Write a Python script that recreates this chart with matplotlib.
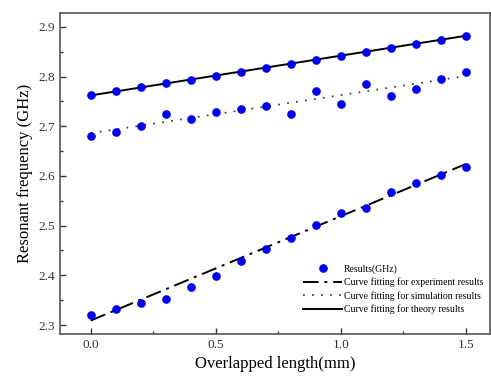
import matplotlib
matplotlib.use("Agg")
import matplotlib.pyplot as plt
import numpy as np

plt.rcParams['font.family'] = ['Liberation Serif', 'DejaVu Serif']

# Data
overlap_mm = [0.0, 0.1, 0.2, 0.3, 0.4, 0.5, 0.6, 0.7, 0.8, 0.9, 1.0, 1.1, 1.2, 1.3, 1.4, 1.5]
theory = [2.762, 2.770, 2.778, 2.786, 2.793, 2.801, 2.809, 2.817, 2.825, 2.833, 2.841, 2.849, 2.857, 2.865, 2.873, 2.882]
simulation = [2.680, 2.689, 2.700, 2.725, 2.715, 2.729, 2.734, 2.740, 2.725, 2.770, 2.745, 2.785, 2.760, 2.775, 2.795, 2.810]
experiment = [2.321, 2.333, 2.345, 2.352, 2.376, 2.399, 2.429, 2.452, 2.476, 2.502, 2.525, 2.536, 2.568, 2.585, 2.602, 2.618]

fit_x = [0.0, 1.5]
fit_experiment = [2.309, 2.624]
fit_simulation = [2.686, 2.801]
fit_theory = [2.762, 2.882]

xticks = [0.0, 0.5, 1.0, 1.5]
yticks = [2.3, 2.4, 2.5, 2.6, 2.7, 2.8, 2.9]

fig = plt.figure(figsize=(4.91, 3.79), dpi=100)
ax = fig.add_axes([0.1222, 0.1187, 0.876, 0.848])

ax.plot(fit_x, fit_experiment, color='black', lw=1.4, linestyle=(0, (8, 3, 1.5, 3)),
        label='Curve fitting for experiment results', zorder=2)
ax.plot(fit_x, fit_simulation, color='#444444', lw=1.3, linestyle=(0, (1, 4)),
        label='Curve fitting for simulation results', zorder=2)
ax.plot(fit_x, fit_theory, color='black', lw=1.4, linestyle='-',
        label='Curve fitting for theory results', zorder=2)

ax.plot(overlap_mm, theory, 'o', color='#0000ee', ms=5.2, zorder=3, label='Results(GHz)')
ax.plot(overlap_mm, simulation, 'o', color='#0000ee', ms=5.2, zorder=3)
ax.plot(overlap_mm, experiment, 'o', color='#0000ee', ms=5.2, zorder=3)

ax.set_xlim(-0.123, 1.597)
ax.set_ylim(2.2819, 2.9286)
ax.set_xticks(xticks)
ax.set_xticklabels([f"{v:.1f}" for v in xticks])
ax.set_yticks(yticks)
ax.set_yticklabels([f"{v:.1f}" for v in yticks])
ax.set_xticks([0.25, 0.75, 1.25], minor=True)
ax.set_yticks([2.35, 2.45, 2.55, 2.65, 2.75, 2.85], minor=True)
ax.tick_params(axis='both', which='major', direction='in', length=4, width=1, labelsize=9.5, colors='#333333')
ax.tick_params(axis='both', which='minor', direction='in', length=2, width=1, colors='#333333')
ax.tick_params(axis='both', labelcolor='#333333')
for s in ax.spines.values():
    s.set_linewidth(1.2)
    s.set_color('#555555')

ax.set_xlabel('Overlapped length(mm)', fontsize=12)
ax.set_ylabel('Resonant frequency (GHz)', fontsize=12)

handles, labels = ax.get_legend_handles_labels()
order = [3, 0, 1, 2]
ax.legend([handles[i] for i in order], [labels[i] for i in order],
          loc='lower right', bbox_to_anchor=(1.0, 0.04), frameon=False, fontsize=7,
          handlelength=4.0, handletextpad=0.2, labelspacing=0.4, borderpad=0.2)

fig.savefig('out.png', dpi=100)
